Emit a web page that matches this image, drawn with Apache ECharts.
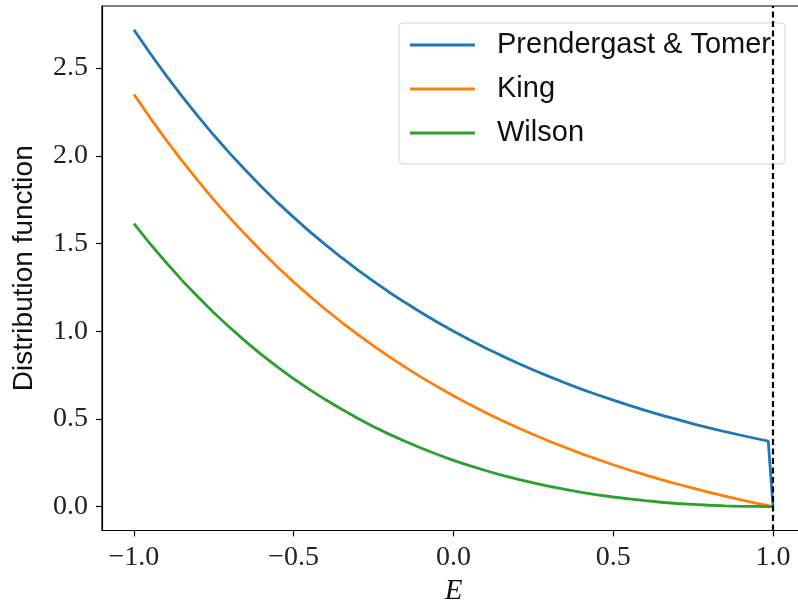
<!DOCTYPE html>
<html>
<head>
<meta charset="utf-8">
<script src="https://cdn.jsdelivr.net/npm/echarts@6/dist/echarts.min.js"></script>
<style>
  html, body { margin: 0; padding: 0; background: #fff; }
  #chart { width: 798px; height: 607px; }
</style>
</head>
<body>
<div id="chart"></div>
<script>
// energy grid (E) and the three distribution functions
const energy = [-1.00, -0.95, -0.90, -0.85, -0.80, -0.75, -0.70, -0.65, -0.60, -0.55,
  -0.50, -0.45, -0.40, -0.35, -0.30, -0.25, -0.20, -0.15, -0.10, -0.05,
  0.00, 0.05, 0.10, 0.15, 0.20, 0.25, 0.30, 0.35, 0.40, 0.45,
  0.50, 0.55, 0.60, 0.65, 0.70, 0.75, 0.80, 0.85, 0.90, 0.95, 0.985, 1.00];
const prendergast = [2.718, 2.586, 2.460, 2.340, 2.226, 2.117, 2.014, 1.916, 1.822, 1.733,
  1.649, 1.568, 1.492, 1.419, 1.350, 1.284, 1.221, 1.162, 1.105, 1.051,
  1.000, 0.951, 0.905, 0.861, 0.819, 0.779, 0.741, 0.705, 0.670, 0.638,
  0.607, 0.577, 0.549, 0.522, 0.497, 0.472, 0.449, 0.427, 0.407, 0.387, 0.373, 0.000];
const king = [2.350, 2.218, 2.092, 1.972, 1.858, 1.749, 1.646, 1.548, 1.454, 1.365,
  1.281, 1.200, 1.124, 1.051, 0.982, 0.916, 0.854, 0.794, 0.737, 0.683,
  0.632, 0.583, 0.537, 0.493, 0.451, 0.411, 0.373, 0.337, 0.302, 0.270,
  0.239, 0.209, 0.181, 0.154, 0.129, 0.105, 0.081, 0.060, 0.039, 0.019, 0.006, 0.000];
const wilson = [1.614, 1.500, 1.393, 1.291, 1.196, 1.105, 1.021, 0.941, 0.865, 0.795,
  0.729, 0.667, 0.609, 0.555, 0.504, 0.456, 0.412, 0.371, 0.333, 0.297,
  0.264, 0.234, 0.206, 0.180, 0.157, 0.135, 0.115, 0.098, 0.082, 0.067,
  0.055, 0.044, 0.034, 0.025, 0.018, 0.013, 0.008, 0.004, 0.002, 0.001, 0.000, 0.000];

const seriesNames = ['Prendergast & Tomer', 'King', 'Wilson'];
const seriesColors = ['#1f77b4', '#ff7f0e', '#2ca02c'];
const xTicks = [-1.0, -0.5, 0.0, 0.5, 1.0];
const yTicks = [0.0, 0.5, 1.0, 1.5, 2.0, 2.5];
const cutoff = 1.0;

const fmt = v => v.toFixed(1).replace('-', '\u2212');
const pairs = ys => energy.map((e, i) => [e, ys[i]]);

const chart = echarts.init(document.getElementById('chart'), null, { renderer: 'canvas' });

const lineSeries = [prendergast, king, wilson].map((ys, i) => ({
  name: seriesNames[i],
  type: 'line',
  data: pairs(ys),
  showSymbol: false,
  symbol: 'none',
  color: seriesColors[i],
  lineStyle: { width: 2.8, color: seriesColors[i] },
  animation: false,
  z: 2
}));

// vertical dashed line at E = 1
lineSeries[2].markLine = {
  silent: true,
  symbol: ['none', 'none'],
  label: { show: false },
  lineStyle: { color: '#000', type: [6, 3.5], width: 2.2 },
  data: [{ xAxis: cutoff }],
  animation: false
};

chart.setOption({
  animation: false,
  grid: {
    left: 102, top: 6, width: 703, height: 524.5,
    show: true, borderColor: '#000', borderWidth: 1.2,
    containLabel: false, outerBoundsMode: 'none'
  },
  legend: {
    orient: 'vertical',
    left: 399, top: 23,
    padding: [7, 14, 16, 11],
    icon: 'rect',
    itemWidth: 65, itemHeight: 3, itemGap: 14,
    backgroundColor: 'rgba(255,255,255,0.8)',
    borderColor: 'rgba(204,204,204,0.8)', borderWidth: 1, borderRadius: 4,
    textStyle: {
      fontFamily: 'Liberation Sans', fontSize: 29, color: '#111',
      lineHeight: 30, padding: [0, 0, 0, 17]
    },
    data: seriesNames
  },
  xAxis: {
    type: 'value',
    min: -1.1, max: 1.1,
    name: 'E',
    nameLocation: 'middle',
    nameGap: 45,
    nameTextStyle: { fontFamily: 'Liberation Serif', fontStyle: 'italic', fontSize: 29, color: '#111' },
    axisLine: { show: true, onZero: false, lineStyle: { color: '#000', width: 1.2 } },
    axisTick: { show: true, customValues: xTicks, length: 6, lineStyle: { color: '#000', width: 1.2 } },
    axisLabel: {
      customValues: xTicks, formatter: fmt, margin: 13,
      fontFamily: 'Liberation Serif', fontSize: 28, color: '#222'
    },
    splitLine: { show: false }
  },
  yAxis: {
    type: 'value',
    min: -0.136, max: 2.854,
    name: 'Distribution function',
    nameLocation: 'middle',
    nameGap: 64,
    nameTextStyle: { fontFamily: 'Liberation Sans', fontSize: 28, color: '#111' },
    axisLine: { show: true, onZero: false, lineStyle: { color: '#000', width: 1.2 } },
    axisTick: { show: true, customValues: yTicks, length: 6, lineStyle: { color: '#000', width: 1.2 } },
    axisLabel: {
      customValues: yTicks, formatter: fmt, margin: 14,
      fontFamily: 'Liberation Serif', fontSize: 28, color: '#222'
    },
    splitLine: { show: false }
  },
  series: lineSeries
});
</script>
</body>
</html>
